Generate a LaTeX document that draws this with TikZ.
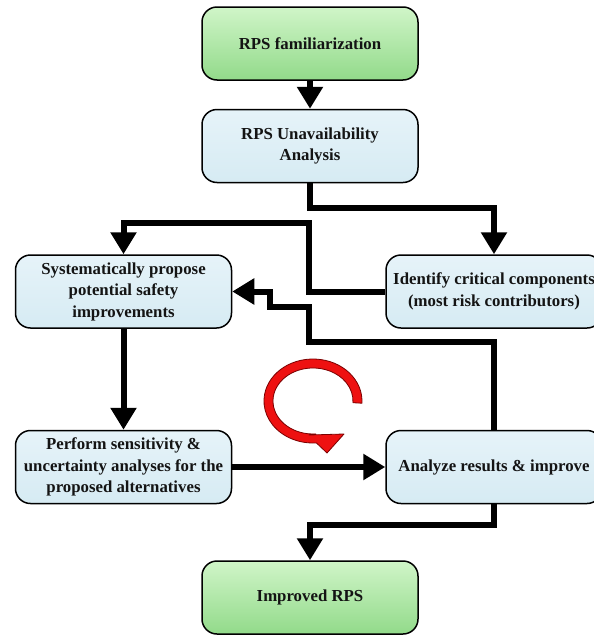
\documentclass[tikz,border=0pt]{standalone}
\usepackage{fontspec}
\setmainfont{Liberation Serif}
\usetikzlibrary{arrows.meta}
\definecolor{boxblue}{HTML}{E6F3F9}
\definecolor{boxblue2}{HTML}{D6EBF3}
\definecolor{greentop}{HTML}{D0F5C8}
\definecolor{greenbot}{HTML}{92DA8A}
\definecolor{arrowred}{HTML}{EE1111}
\definecolor{arrowdark}{HTML}{7A0000}
\definecolor{txt}{HTML}{141414}
\tikzset{
  box/.style={draw=black, line width=1.5pt, rounded corners=15pt,
    minimum width=216pt, minimum height=73pt, align=center, inner sep=1pt,
    font=\bfseries\fontsize{16.8}{21.5}\selectfont, text=txt},
  bluebox/.style={box, top color=boxblue, bottom color=boxblue2},
  greenbox/.style={box, top color=greentop, bottom color=greenbot},
  conn/.style={line width=6pt, -{Triangle[width=25pt,length=22pt]}},
  redarrow/.style={fill=arrowred, draw=arrowdark, line width=0.8pt, line join=round}
}
\begin{document}
\begin{tikzpicture}[x=1pt,y=-1pt]
\useasboundingbox (0,0) rectangle (594,635);
\node[greenbox] (b1) at (310,43.5) {RPS familiarization};
\node[bluebox]  (b2) at (310,146) {RPS Unavailability\\Analysis};
\node[bluebox]  (b3) at (123.5,291.5) {Systematically propose\\potential safety\\improvements};
\node[bluebox]  (b4) at (494,291.5) {Identify critical components\\(most risk contributors)};
\node[bluebox]  (b5) at (123.5,467) {Perform sensitivity \&\\uncertainty analyses for the\\proposed alternatives};
\node[bluebox]  (b6) at (494,467) {Analyze results \& improve};
\node[greenbox] (b7) at (310,597.5) {Improved RPS};

\coordinate (c2) at (310,208);
\coordinate (c3) at (309,223);
\coordinate (c4a) at (309,342);
\coordinate (c4b) at (270,307);
\coordinate (c7) at (310,525);

\draw[conn] (b1.south) -- (b2.north);
\draw[conn] (b2.south) -- (c2) -| (b4.north);
\draw[conn] (b4.west) -| (c3) -| (b3.north);
\draw[conn] (b6.north) |- (c4a) |- (c4b) |- (b3.east);
\draw[conn] (b3.south) -- (b5.north);
\draw[conn] (b5.east) -- (b6.west);
\draw[conn] (b6.south) |- (c7) -- (b7.north);

\filldraw[redarrow] (361.9,403.2) arc[start angle=3, end angle=-274, x radius=49, y radius=42]
  -- (327,453) -- (344,434) -- (309,435) -- (315.8,433.9)
  arc[start angle=-274, end angle=3, x radius=40, y radius=33] -- cycle;
\end{tikzpicture}
\end{document}
